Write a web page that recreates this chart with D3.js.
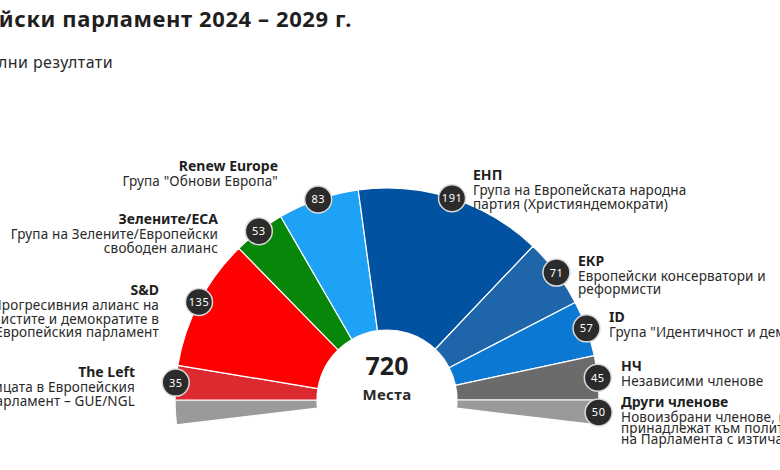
<!DOCTYPE html>
<html>
<head>
<meta charset="utf-8">
<script src="https://cdn.jsdelivr.net/npm/d3@7"></script>
<style>
  html, body { margin: 0; padding: 0; background: #ffffff; }
  svg { display: block; font-family: "Noto Sans", "Open Sans", sans-serif; }
</style>
</head>
<body>
<svg id="chart" width="780" height="470"></svg>
<script>
// ---- data ----
const groups = ["The Left", "S&D", "Зелените/ЕСА", "Renew Europe", "ЕНП", "ЕКР", "ID", "НЧ", "Други членове"];
const seats  = [35, 135, 53, 83, 191, 71, 57, 45, 50];
const descriptions = [
  ["Левицата в Европейския", "парламент – GUE/NGL"],
  ["Група на Прогресивния алианс на", "социалистите и демократите в", "Европейския парламент"],
  ["Група на Зелените/Европейски", "свободен алианс"],
  ["Група \"Обнови Европа\""],
  ["Група на Европейската народна", "партия (Християндемократи)"],
  ["Европейски консерватори и", "реформисти"],
  ["Група \"Идентичност и демокрация\""],
  ["Независими членове"],
  ["Новоизбрани членове, които не", "принадлежат към политическа група", "на Парламента с изтичащ мандат"]
];
const colors = ["#dd2a30", "#fe0000", "#06870a", "#1ea2f6", "#0152a1", "#1f65a9", "#0b78d4", "#6b6b6b", "#9a9a9a"];
const totalSeats = 720;
const titleText = "Европейски парламент 2024 – 2029 г.";
const subtitleText = "Предварителни резултати";
const centerLabel = "Места";

// ---- layout (positions kept separate from data) ----
const cx = 387, cy = 400, rInner = 70, rOuter = 212;
const labelLayout = {
  "The Left":      {x: 135, y: 377, anchor: "end",   lh: 13.5},
  "S&D":           {x: 159, y: 295, anchor: "end",   lh: 13.5},
  "Зелените/ЕСА":  {x: 218, y: 224, anchor: "end",   lh: 14},
  "Renew Europe":  {x: 278, y: 171, anchor: "end",   lh: 14},
  "ЕНП":           {x: 473, y: 180, anchor: "start", lh: 14},
  "ЕКР":           {x: 578, y: 266, anchor: "start", lh: 13},
  "ID":            {x: 609, y: 322, anchor: "start", lh: 15},
  "НЧ":            {x: 621, y: 371, anchor: "start", lh: 15},
  "Други членове": {x: 621, y: 407, anchor: "start", lh: 11}
};

const svg = d3.select("#chart");

// Title & subtitle (left part runs off the canvas as in the reference)
svg.append("text").attr("x", 352).attr("y", 27).attr("text-anchor", "end")
  .attr("font-size", 22).attr("font-weight", 700).attr("letter-spacing", 0.6)
  .attr("fill", "#1f1f1f").text(titleText);
svg.append("text").attr("x", 113).attr("y", 68).attr("text-anchor", "end")
  .attr("font-size", 16).attr("letter-spacing", 0.4).attr("fill", "#2a2a2a").text(subtitleText);

// Build the ring: "others" is split in two halves placed below the horizontal on both ends
const othersIdx = groups.length - 1;
const ring = [];
ring.push({name: groups[othersIdx], value: seats[othersIdx] / 2, color: colors[othersIdx], badge: false});
for (let i = 0; i < othersIdx; i++) ring.push({name: groups[i], value: seats[i], color: colors[i], badge: true, idx: i});
ring.push({name: groups[othersIdx], value: seats[othersIdx] / 2, color: colors[othersIdx], badge: true, idx: othersIdx, full: seats[othersIdx]});

// Seats of the named groups span exactly half a circle
const seatsInHalf = d3.sum(seats) - seats[othersIdx];
const angle = d3.scaleLinear().domain([0, seatsInHalf]).range([0, Math.PI]);
const span = angle(d3.sum(ring, d => d.value));

const pie = d3.pie().value(d => d.value).sort(null)
  .startAngle(-span / 2).endAngle(span / 2);
const arcs = pie(ring);

const arc = d3.arc().innerRadius(rInner).outerRadius(rOuter);
const g = svg.append("g").attr("transform", `translate(${cx},${cy})`);

g.selectAll("path.slice").data(arcs).join("path")
  .attr("class", "slice")
  .attr("d", arc)
  .attr("fill", d => d.data.color)
  .attr("stroke", "#ffffff")
  .attr("stroke-width", 1.2)
  .attr("stroke-linejoin", "round");

// Badges at the outer rim, centred on each slice
const badgeArc = d3.arc().innerRadius(rOuter).outerRadius(rOuter);
const badges = g.selectAll("g.badge").data(arcs.filter(d => d.data.badge)).join("g")
  .attr("class", "badge")
  .attr("transform", d => `translate(${badgeArc.centroid(d)})`);
badges.append("circle").attr("r", 13.5).attr("fill", "#2b2b2b")
  .attr("stroke", "#d9d9d9").attr("stroke-width", 1.5);
badges.append("text").attr("text-anchor", "middle").attr("dy", "0.36em")
  .attr("font-size", 11).attr("fill", "#ffffff").attr("letter-spacing", 0.5)
  .text(d => d.data.full !== undefined ? d.data.full : d.data.value);

// Centre total
g.append("text").attr("y", -25).attr("text-anchor", "middle")
  .attr("font-size", 25).attr("font-weight", 700).attr("fill", "#1f1f1f").text(totalSeats);
g.append("text").attr("y", 0).attr("text-anchor", "middle")
  .attr("font-size", 15).attr("font-weight", 700).attr("letter-spacing", 0.3)
  .attr("fill", "#2a2a2a").text(centerLabel);

// Group labels
groups.forEach((name, i) => {
  const L = labelLayout[name];
  const t = svg.append("text").attr("x", L.x).attr("y", L.y).attr("text-anchor", L.anchor).attr("fill", "#1f1f1f");
  t.append("tspan").attr("x", L.x).attr("font-size", 14).attr("font-weight", 700).text(name);
  descriptions[i].forEach((line, j) => {
    t.append("tspan").attr("x", L.x).attr("dy", j === 0 ? 15 : L.lh)
      .attr("font-size", 13.5).attr("letter-spacing", 0.15).attr("fill", "#2a2a2a").text(line);
  });
});
</script>
</body>
</html>
